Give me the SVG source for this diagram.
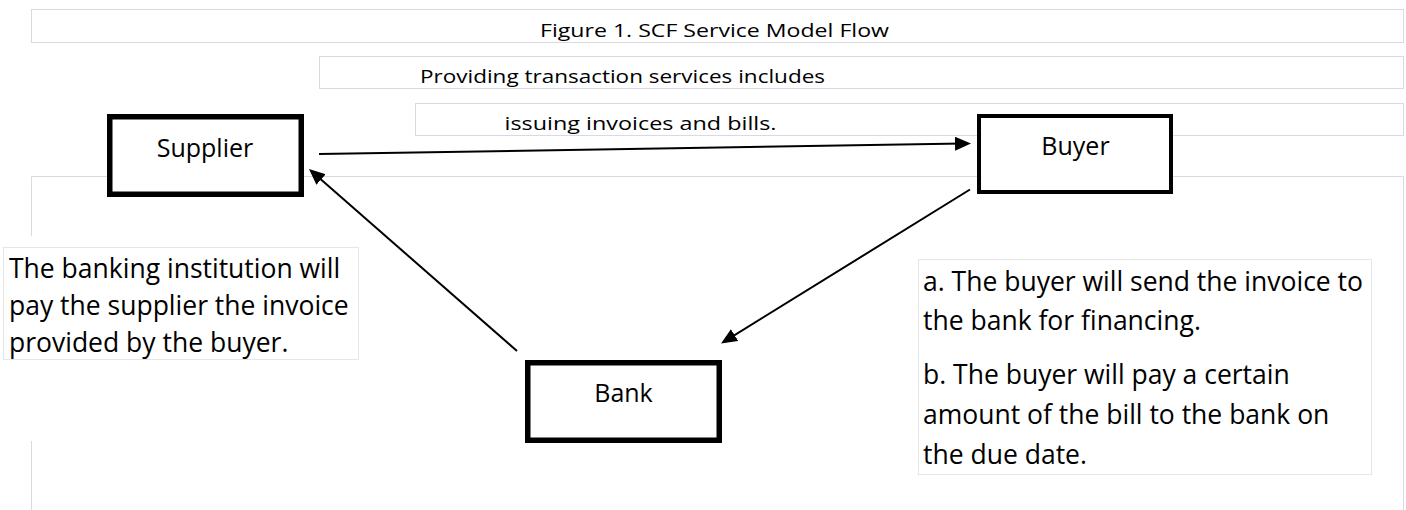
<svg xmlns="http://www.w3.org/2000/svg" width="1406" height="510" viewBox="0 0 1406 510">
  <defs>
    <marker id="arrow" markerUnits="userSpaceOnUse" markerWidth="16" markerHeight="14" viewBox="0 0 16 14" refX="8" refY="7" orient="auto">
      <path d="M0,0 L16,7 L0,14 z" fill="#000"/>
    </marker>
    <style>
      .frame { fill: none; stroke: #d9d9e3; stroke-width: 1; }
      .hbox { fill: #fff; stroke: #d9d9e3; stroke-width: 1; }
      .note { fill: #fff; stroke: #e6e6e6; stroke-width: 1; }
      .node { fill: #fff; stroke: #000; }
      .htxt { font-family: "Open Sans", "Noto Sans", sans-serif; font-size: 17.5px; fill: #000; }
      .ntxt { font-family: "Open Sans", "Noto Sans", sans-serif; font-size: 25px; fill: #000; text-anchor: middle; }
      .ptxt { font-family: "Open Sans", "Noto Sans", sans-serif; font-size: 26.5px; fill: #000; }
      .conn { fill: none; stroke: #000; stroke-width: 2; marker-end: url(#arrow); }
    </style>
  </defs>
  <rect width="1406" height="510" fill="#fff"/>

  <g id="frame">
    <path class="frame" d="M31.5,510 V441 M31.5,236 V176.5 H1403.5 V510"/>
  </g>

  <g id="title">
    <rect class="hbox" x="31.5" y="9.5" width="1372" height="33"/>
    <text class="htxt" x="540" y="36.5" textLength="349" lengthAdjust="spacingAndGlyphs">Figure 1. SCF Service Model Flow</text>
  </g>

  <g id="header-line-1">
    <rect class="hbox" x="319.5" y="56.5" width="1084" height="32"/>
    <text class="htxt" x="420" y="82.5" textLength="405" lengthAdjust="spacingAndGlyphs" style="font-size:18px">Providing transaction services includes</text>
  </g>

  <g id="header-line-2">
    <rect class="hbox" x="415.5" y="103.5" width="988" height="32"/>
    <text class="htxt" x="504.5" y="130" textLength="272" lengthAdjust="spacingAndGlyphs" style="font-size:18px">issuing invoices and bills.</text>
  </g>

  <g id="note-left">
    <rect class="note" x="3.5" y="247.5" width="355" height="112"/>
    <text class="ptxt" x="9" y="278">The banking institution will</text>
    <text class="ptxt" x="9" y="315">pay the supplier the invoice</text>
    <text class="ptxt" x="9" y="352">provided by the buyer.</text>
  </g>

  <g id="note-right">
    <rect class="note" x="918.5" y="259.5" width="453" height="215"/>
    <text class="ptxt" x="923" y="290.5">a. The buyer will send the invoice to</text>
    <text class="ptxt" x="923" y="329.5">the bank for financing.</text>
    <text class="ptxt" x="923" y="383.5">b. The buyer will pay a certain</text>
    <text class="ptxt" x="923" y="423.5">amount of the bill to the bank on</text>
    <text class="ptxt" x="923" y="463.5">the due date.</text>
  </g>

  <g id="connectors">
    <path class="conn" d="M319,154 L963,143.6"/>
    <path class="conn" d="M517,351 L315,174.3"/>
    <path class="conn" d="M970,189.5 L727.8,339.3"/>
  </g>

  <g id="supplier">
    <rect class="node" x="109.75" y="116.75" width="191.5" height="77.5" stroke-width="5.5"/>
    <text class="ntxt" x="205" y="157">Supplier</text>
  </g>

  <g id="buyer">
    <rect class="node" x="979" y="116" width="192" height="76" stroke-width="4"/>
    <text class="ntxt" x="1075.5" y="155">Buyer</text>
  </g>

  <g id="bank">
    <rect class="node" x="527.75" y="362.75" width="191.5" height="77.5" stroke-width="5.5"/>
    <text class="ntxt" x="623.5" y="402">Bank</text>
  </g>
</svg>
